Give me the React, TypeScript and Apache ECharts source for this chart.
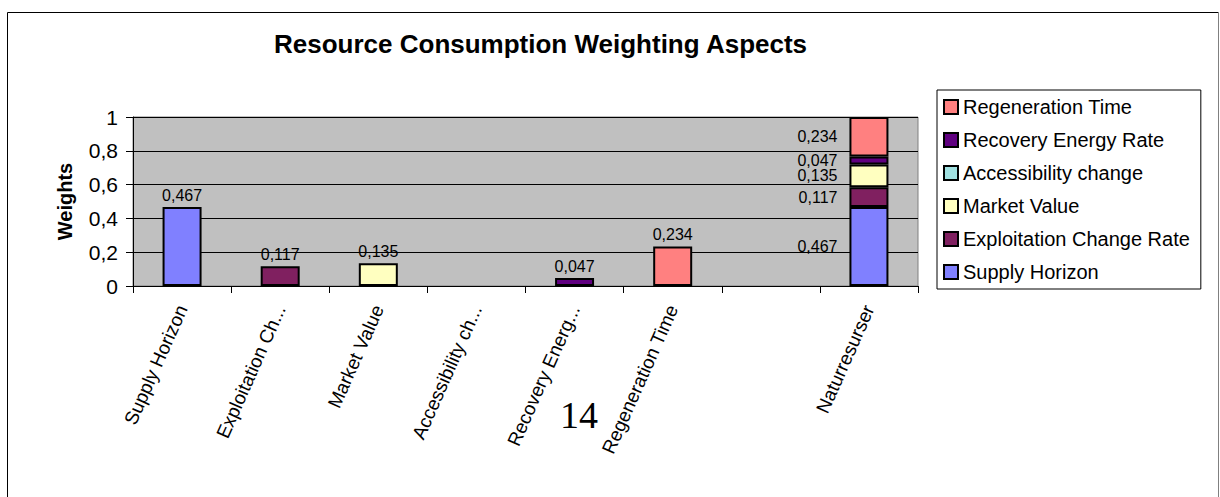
import React, { useEffect, useRef } from "react";
import * as echarts from "echarts";

// Category labels along the horizontal axis (as printed, already shortened)
const categories = [
  "Supply Horizon",
  "Exploitation Ch...",
  "Market Value",
  "Accessibility ch...",
  "Recovery Energ...",
  "Regeneration Time",
  "",
  "Naturresurser",
];

// Weight of each aspect; the last column stacks all aspects together
const supplyHorizon = [0.467, null, null, null, null, null, null, 0.467];
const exploitationChangeRate = [null, 0.117, null, null, null, null, null, 0.117];
const marketValue = [null, null, 0.135, null, null, null, null, 0.135];
const accessibilityChange = [null, null, null, null, null, null, null, null];
const recoveryEnergyRate = [null, null, null, null, 0.047, null, null, 0.047];
const regenerationTime = [null, null, null, null, null, 0.234, null, 0.234];

const yTicks = [0, 0.2, 0.4, 0.6, 0.8, 1];

const FONT = "'Liberation Sans', Arial, sans-serif";

const seriesDefs = [
  { name: "Supply Horizon", data: supplyHorizon, color: "#8080FF" },
  { name: "Exploitation Change Rate", data: exploitationChangeRate, color: "#802060" },
  { name: "Market Value", data: marketValue, color: "#FFFFC0" },
  { name: "Accessibility change", data: accessibilityChange, color: "#A0E0E0" },
  { name: "Recovery Energy Rate", data: recoveryEnergyRate, color: "#600080" },
  { name: "Regeneration Time", data: regenerationTime, color: "#FF8080" },
];

const comma = (v: number) => String(v).replace(".", ",");

export default function App() {
  const ref = useRef<HTMLDivElement>(null);

  useEffect(() => {
    if (!ref.current) return;
    const chart = echarts.init(ref.current, null, { renderer: "svg" });
    const stackIndex = categories.length - 1;

    chart.setOption({
      animation: false,
      backgroundColor: "#FFFFFF",
      title: {
        text: "Resource Consumption Weighting Aspects",
        left: 274,
        top: 31,
        padding: 0,
        textStyle: { fontFamily: FONT, fontSize: 26, fontWeight: "bold", color: "#000" },
      },
      legend: {
        orient: "vertical",
        left: 937,
        top: 90,
        padding: [7, 11, 7, 6],
        borderColor: "#000",
        borderWidth: 1,
        itemWidth: 14,
        itemHeight: 14,
        itemGap: 13,
        icon: "rect",
        data: seriesDefs.map((s) => s.name).reverse(),
        textStyle: { fontFamily: FONT, fontSize: 20, color: "#000" },
      },
      grid: {
        left: 133,
        right: 302,
        top: 117,
        bottom: 211,
        show: true,
        backgroundColor: "#C0C0C0",
        borderColor: "#808080",
        borderWidth: 1,
      },
      xAxis: {
        type: "category",
        data: categories,
        boundaryGap: true,
        axisLine: { show: true, lineStyle: { color: "#000", width: 1 } },
        axisTick: { show: true, interval: 0, length: 7, lineStyle: { color: "#000" } },
        axisLabel: {
          interval: 0,
          rotate: 66,
          margin: 20,
          fontFamily: FONT,
          fontSize: 19,
          color: "#000",
        },
        splitLine: { show: false },
      },
      yAxis: {
        type: "value",
        min: yTicks[0],
        max: yTicks[yTicks.length - 1],
        interval: 0.2,
        name: "Weights",
        nameLocation: "middle",
        nameGap: 58,
        nameTextStyle: { fontFamily: FONT, fontSize: 20, fontWeight: "bold", color: "#000" },
        axisLine: { show: true, lineStyle: { color: "#000", width: 1 } },
        axisTick: { show: true, length: 7, lineStyle: { color: "#000" } },
        axisLabel: {
          margin: 15,
          fontFamily: FONT,
          fontSize: 21,
          color: "#000",
          formatter: (v: number) => comma(v),
        },
        splitLine: { show: true, lineStyle: { color: "#000", width: 1 } },
      },
      series: seriesDefs.map((s) => ({
        name: s.name,
        type: "bar",
        stack: "total",
        barWidth: 39,
        itemStyle: { color: s.color, borderColor: "#000", borderWidth: 2 },
        label: {
          show: true,
          position: "top",
          distance: 4,
          fontFamily: FONT,
          fontSize: 16,
          color: "#000",
          formatter: (p: any) => (p.value ? comma(p.value) : ""),
        },
        data: s.data.map((v, i) =>
          i === stackIndex && v != null
            ? { value: v, label: { position: "left", distance: 12 } }
            : v
        ),
      })),
      graphic: [
        // outer frame of the chart object
        {
          type: "line",
          shape: { x1: 7.5, y1: 12.5, x2: 7.5, y2: 510 },
          style: { stroke: "#000", lineWidth: 1 },
          silent: true,
        },
        {
          type: "line",
          shape: { x1: 7.5, y1: 12.5, x2: 1218.5, y2: 12.5 },
          style: { stroke: "#000", lineWidth: 1 },
          silent: true,
        },
        {
          type: "line",
          shape: { x1: 1218.5, y1: 12.5, x2: 1218.5, y2: 510 },
          style: { stroke: "#808080", lineWidth: 1 },
          silent: true,
        },
        // page number printed across the chart
        {
          type: "text",
          x: 579,
          y: 415,
          style: {
            text: "14",
            fontFamily: "'Liberation Serif', 'Times New Roman', serif",
            fontSize: 38,
            fill: "#000",
            align: "center",
            verticalAlign: "middle",
          },
          z: 100,
        },
      ],
    });

    return () => chart.dispose();
  }, []);

  return (
    <div
      ref={ref}
      style={{ position: "fixed", left: 0, top: 0, width: 1220, height: 497 }}
    />
  );
}
